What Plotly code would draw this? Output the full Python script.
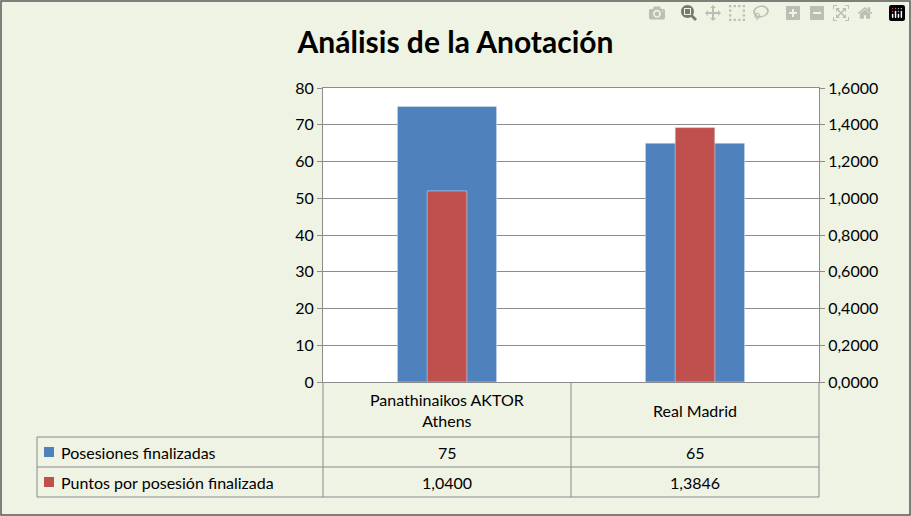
import plotly.graph_objects as go

categories = ["Panathinaikos AKTOR<br>Athens", "Real Madrid"]
posesiones = [75, 65]
puntos = [1.0400, 1.3846]
series_names = ["Posesiones finalizadas", "Puntos por posesión finalizada"]
posesiones_txt = ["75", "65"]
puntos_txt = ["1,0400", "1,3846"]

W, H = 911, 516
L, R, T, B = 323, 819, 88, 382
def px(x): return (x - L) / (R - L)
def py(y): return (B - y) / (B - T)

blue, red = "#4F81BD", "#C0504D"
font = "Lato"

fig = go.Figure()
fig.add_bar(x=[0, 1], y=posesiones, width=0.4, offset=-0.2, marker_color=blue, showlegend=False)
fig.add_bar(x=[0, 1], y=puntos, width=0.16, offset=-0.08, marker_color=red, yaxis="y2", showlegend=False)

shapes = []
grid = "#8C8C8C"
cols = [L, 571, R]
for x in cols:
    shapes.append(dict(type="line", xref="paper", yref="paper", x0=px(x), x1=px(x), y0=py(B), y1=py(497), line=dict(color=grid, width=1)))
shapes.append(dict(type="line", xref="paper", yref="paper", x0=px(37), x1=px(37), y0=py(437), y1=py(497), line=dict(color=grid, width=1)))
for y in [437, 467, 497]:
    shapes.append(dict(type="line", xref="paper", yref="paper", x0=px(37), x1=px(R), y0=py(y), y1=py(y), line=dict(color=grid, width=1)))
for y, c in [(452, blue), (482, red)]:
    shapes.append(dict(type="rect", xref="paper", yref="paper", x0=px(44), x1=px(54), y0=py(y - 5), y1=py(y + 5), fillcolor=c, line=dict(width=0)))
shapes.append(dict(type="rect", xref="paper", yref="paper", x0=px(1), x1=px(W - 1), y0=py(1), y1=py(H - 1), line=dict(color="#595959", width=1.5)))

ann = []
tf = dict(family=font, size=16, color="black")
for i, c in enumerate(categories):
    xc = (cols[i] + cols[i + 1]) / 2
    for y, t in [(410, c), (452, posesiones_txt[i]), (482, puntos_txt[i])]:
        ann.append(dict(x=px(xc), y=py(y), xref="paper", yref="paper", text=t, showarrow=False,
                        xanchor="center", yanchor="middle", align="center", font=tf))
for y, n in [(452, series_names[0]), (482, series_names[1])]:
    ann.append(dict(x=px(59), y=py(y), xref="paper", yref="paper", text=n, showarrow=False,
                    xanchor="left", yanchor="middle", font=tf))

fig.update_layout(
    width=W, height=H, margin=dict(l=L, r=W - R, t=T, b=H - B),
    paper_bgcolor="#EEF3E3", plot_bgcolor="white", barmode="overlay",
    separators=",.",
    title=dict(text="<b>Análisis de la Anotación</b>", x=0.5, xref="container", y=1 - 42 / H, yanchor="middle",
               font=dict(family=font, size=30, color="black")),
    xaxis=dict(range=[-0.5, 1.5], showticklabels=False, showgrid=False, zeroline=False,
               showline=True, linecolor=grid, mirror=True, ticks=""),
    yaxis=dict(range=[0, 80], dtick=10, gridcolor=grid, showline=True, linecolor=grid, ticks="outside",
               tickcolor=grid, ticklen=5, tickfont=tf, zeroline=False),
    yaxis2=dict(range=[0, 1.6], dtick=0.2, tickformat=".4f", overlaying="y", side="right", showgrid=False,
                showline=True, linecolor=grid, ticks="outside", tickcolor=grid, ticklen=5, tickfont=tf, zeroline=False),
    shapes=shapes, annotations=ann,
)
fig.write_html("out.html", post_script="document.body.style.margin='0';document.body.style.overflow='hidden';")
